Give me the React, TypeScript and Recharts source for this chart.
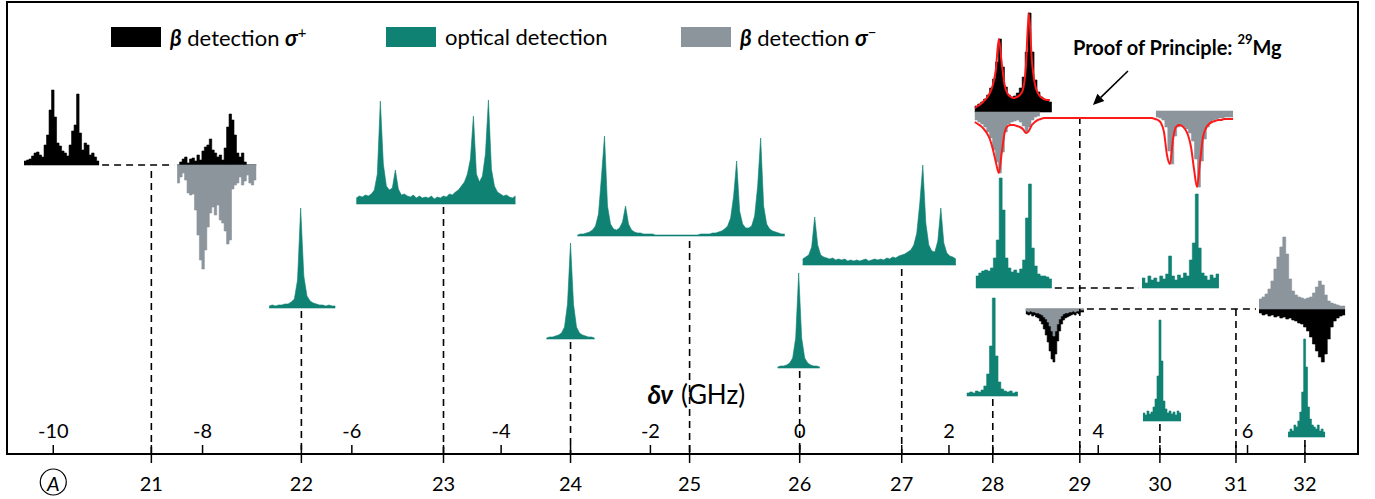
import React from "react";
import {
  ComposedChart,
  Area,
  Line,
  XAxis,
  YAxis,
  ReferenceLine,
  ReferenceArea,
  ReferenceDot,
  Legend,
} from "recharts";

const TEAL = "#0f8274";
const BLACK = "#000000";
const GREY = "#8c949c";
const RED = "#ff1a1a";

// mass numbers and where they sit on the δν (GHz) scale
const massNumbers = [21, 22, 23, 24, 25, 26, 27, 28, 29, 30, 31, 32];
const isotopeShift = [-8.686, -6.676, -4.772, -3.07, -1.475, 0, 1.367, 2.587, 3.753, 4.826, 5.845, 6.769];
const dnuTicks = [-10, -8, -6, -4, -2, 0, 2, 4, 6];

// spectra, intensities in arbitrary units
const mg21PlusA = [4, 5, 6, 9, 12, 13, 10, 8, 20, 30, 55, 75, 48, 22, 19, 14, 12, 9, 20, 34, 40, 71, 32, 15, 22, 20, 10, 12, 8, 4];
const mg21PlusB = [0, 3, 6, 8, 2, 6, 7, 4, 10, 5, 14, 18, 20, 26, 15, 12, 8, 10, 5, 17, 38, 51, 45, 30, 12, 8, 12, 3, 0, 0, 0, 0];
const mg21MinusB = [18, 12, 8, 15, 28, 30, 29, 45, 70, 95, 104, 85, 62, 48, 42, 50, 40, 55, 58, 66, 79, 75, 24, 20, 18, 12, 20, 16, 10, 18, 20, 15];
const mg22Optical = [2, 3, 2, 3, 3, 4, 4, 6, 9, 28, 100, 32, 12, 7, 5, 4, 3, 3, 2, 3, 2, 2];
const mg23Optical = [6, 8, 7, 9, 8, 10, 14, 30, 103, 40, 18, 14, 16, 34, 15, 9, 10, 8, 7, 9, 6, 8, 6, 7, 6, 8, 5, 7, 6, 8, 7, 10, 9, 12, 14, 18, 22, 30, 45, 88, 30, 22, 28, 50, 104, 35, 18, 12, 10, 8, 9, 7, 6, 8];
const mg24Optical = [1, 2, 2, 3, 4, 6, 12, 35, 96, 35, 12, 6, 4, 3, 2, 2, 1];
const mg25Optical = [
  1, 2, 2, 3, 4, 6, 10, 22, 60, 100, 30, 12, 7, 6, 8, 14, 30, 12, 6, 4, 3, 3, 2, 2, 2, 2, 1, 1, 1, 1,
  1, 1, 1, 1, 1, 1, 1, 1, 1, 1, 1, 2, 2, 2, 2, 3, 3, 4, 5, 7, 10, 18, 40, 75, 25, 12, 8, 8, 10, 20,
  50, 98, 30, 12, 7, 5, 4, 3, 2, 2,
];
const mg26Optical = [1, 2, 2, 3, 5, 10, 30, 95, 30, 10, 5, 3, 2, 2, 1];
const mg27Optical = [6, 8, 10, 18, 48, 20, 10, 8, 7, 6, 7, 5, 6, 5, 6, 4, 5, 4, 5, 4, 5, 6, 4, 5, 6, 5, 6, 5, 7, 6, 8, 7, 9, 10, 11, 13, 15, 20, 32, 62, 100, 42, 20, 14, 13, 24, 57, 22, 12, 9, 8, 6];
const mg28Optical = [3, 4, 3, 5, 4, 6, 10, 22, 50, 98, 40, 14, 7, 5, 4, 5, 3, 4];
const mg29OpticalA = [12, 15, 17, 18, 17, 20, 30, 48, 110, 78, 30, 20, 16, 18, 15, 19, 28, 70, 104, 40, 22, 14, 12, 12, 11, 9];
const mg29OpticalB = [10, 5, 12, 8, 10, 6, 12, 9, 14, 32, 12, 8, 13, 10, 15, 12, 28, 45, 94, 40, 15, 12, 8, 13, 10, 14];
const mg30Optical = [8, 6, 10, 7, 9, 14, 22, 45, 101, 60, 20, 12, 8, 10, 7, 9, 6, 10, 8];
const mg32Optical = [5, 8, 6, 12, 10, 16, 25, 45, 98, 70, 30, 18, 12, 10, 8, 12, 6, 8, 5];
const mg31PlusA = [5, 6, 5, 7, 6, 8, 9, 12, 15, 20, 26, 33, 42, 50, 53, 45, 32, 22, 15, 11, 9, 8, 7, 6, 5, 6, 4, 5, 3, 3];
const mg31MinusA = [2, 3, 2, 3, 3, 4, 4, 5, 6, 8, 10, 13, 17, 22, 27, 22, 15, 10, 7, 5, 4, 4, 3, 3, 2, 3, 2, 2, 1, 1];
const mg31MinusB = [10, 12, 15, 20, 28, 40, 52, 62, 72, 55, 30, 18, 14, 12, 11, 10, 11, 12, 16, 22, 28, 24, 14, 8, 6, 5, 4, 3, 3];
const mg31PlusB = [4, 6, 5, 7, 6, 8, 7, 9, 8, 10, 9, 11, 12, 14, 15, 18, 22, 28, 35, 42, 48, 53, 45, 30, 18, 12, 9, 7, 6];
const mg29Plus = [6, 8, 10, 13, 17, 24, 33, 50, 73, 45, 25, 17, 15, 16, 19, 24, 35, 60, 99, 60, 32, 20, 15, 12, 11, 10];
const mg29MinusA = [8, 10, 12, 15, 20, 26, 38, 50, 61, 40, 20, 12, 10, 9, 8, 10, 14, 21, 15, 8, 5, 4];
const mg29MinusB = [6, 7, 9, 16, 40, 53, 25, 16, 15, 16, 18, 22, 30, 48, 76, 50, 28, 16, 11, 9, 8, 7, 7, 6, 6, 6];
const mg29FitPlus = [4, 6, 8, 11, 14, 19, 27, 42, 73, 48, 26, 18, 15, 14, 15, 17, 22, 45, 99, 52, 28, 19, 15, 13, 12, 12];
const mg29FitMinus = [
  5, 7, 9, 12, 16, 22, 32, 45, 56, 35, 15, 9, 8, 8, 9, 10, 12, 16, 14, 8, 5, 3, 2, 1,
  1, 1, 1, 1, 1, 1, 1, 1, 1, 1, 1, 1, 1, 1, 1, 1, 1, 1, 1, 1, 1, 1, 1, 1, 1, 1, 1, 1, 1, 1, 1, 1, 1, 1, 1,
  1, 2, 3, 6, 15, 38, 47, 22, 10, 8, 9, 12, 18, 30, 52, 70, 45, 20, 11, 7, 5, 4, 3, 3, 2, 2, 2, 2,
];

type Spec = {
  name: string;
  values: number[];
  from: number;
  to: number;
  base: number;
  dir: 1 | -1;
  color: string;
  step: boolean;
  mass?: number;
  gap?: number;
};

// where each inset sits: from/to on the δν axis, base on the (hidden) vertical scale
const spectra: Spec[] = [
  { name: "mg21-plus-a", values: mg21PlusA, from: -10.392, to: -9.386, base: 289, dir: 1, color: BLACK, step: true },
  { name: "mg21-plus-b", values: mg21PlusB, from: -8.34, to: -7.281, base: 289, dir: 1, color: BLACK, step: true, mass: 21, gap: 6 },
  { name: "mg21-minus-b", values: mg21MinusB, from: -8.34, to: -7.281, base: 289, dir: -1, color: GREY, step: true },
  { name: "mg22", values: mg22Optical, from: -7.107, to: -6.222, base: 146, dir: 1, color: TEAL, step: false, mass: 22, gap: 3 },
  { name: "mg23", values: mg23Optical, from: -5.94, to: -3.808, base: 250, dir: 1, color: TEAL, step: false, mass: 23, gap: 3 },
  { name: "mg24", values: mg24Optical, from: -3.392, to: -2.749, base: 115, dir: 1, color: TEAL, step: false, mass: 24, gap: 3 },
  { name: "mg25", values: mg25Optical, from: -2.977, to: -0.201, base: 218, dir: 1, color: TEAL, step: false, mass: 25, gap: 5 },
  { name: "mg26", values: mg26Optical, from: -0.295, to: 0.268, base: 86, dir: 1, color: TEAL, step: false, mass: 26, gap: 3 },
  { name: "mg27", values: mg27Optical, from: 0.04, to: 2.092, base: 189, dir: 1, color: TEAL, step: false, mass: 27, gap: 4 },
  { name: "mg28", values: mg28Optical, from: 2.239, to: 2.923, base: 58, dir: 1, color: TEAL, step: true, mass: 28, gap: 3 },
  { name: "mg29-opt-a", values: mg29OpticalA, from: 2.36, to: 3.378, base: 166, dir: 1, color: TEAL, step: true },
  { name: "mg29-opt-b", values: mg29OpticalB, from: 4.586, to: 5.617, base: 166, dir: 1, color: TEAL, step: true },
  { name: "mg30", values: mg30Optical, from: 4.599, to: 5.109, base: 33, dir: 1, color: TEAL, step: true, mass: 30, gap: 3 },
  { name: "mg32", values: mg32Optical, from: 6.543, to: 7.039, base: 17, dir: 1, color: TEAL, step: true, mass: 32, gap: 3 },
  { name: "mg31-plus-a", values: mg31PlusA, from: 3.03, to: 3.808, base: 145, dir: -1, color: BLACK, step: true },
  { name: "mg31-minus-a", values: mg31MinusA, from: 3.03, to: 3.808, base: 145, dir: -1, color: GREY, step: true },
  { name: "mg31-plus-b", values: mg31PlusB, from: 6.154, to: 7.307, base: 145, dir: -1, color: BLACK, step: true, mass: 31, gap: 0 },
  { name: "mg31-minus-b", values: mg31MinusB, from: 6.154, to: 7.307, base: 145, dir: 1, color: GREY, step: true },
  { name: "mg29-plus", values: mg29Plus, from: 2.346, to: 3.378, base: 342, dir: 1, color: BLACK, step: true },
  { name: "mg29-minus-a", values: mg29MinusA, from: 2.346, to: 3.218, base: 342, dir: -1, color: GREY, step: true },
  { name: "mg29-minus-b", values: mg29MinusB, from: 4.773, to: 5.806, base: 343, dir: -1, color: GREY, step: true },
];

const fits = [
  { name: "fit-plus", values: mg29FitPlus, from: 2.346, to: 3.352, base: 342, dir: 1 },
  { name: "fit-minus", values: mg29FitMinus, from: 2.346, to: 5.806, base: 337, dir: -1, mass: 29 },
];

const links = [
  ["mg21-plus-a", "mg21-plus-b"],
  ["mg29-opt-a", "mg29-opt-b"],
  ["mg31-plus-a", "mg31-plus-b"],
];

const legendItems = [
  { greek: "β", sign: "+", text: " detection ", color: BLACK },
  { greek: "", sign: "", text: "optical detection", color: TEAL },
  { greek: "β", sign: "−", text: " detection ", color: GREY },
];

const axisTicks = Array.from(new Set([...dnuTicks, ...isotopeShift])).sort((a, b) => a - b);

function toPoints(s: Spec) {
  const n = s.values.length;
  const span = s.to - s.from;
  const pts = s.values.map((h, i) => ({
    x: s.from + (span * i) / (s.step ? n : n - 1),
    v: [s.base, s.base + s.dir * h],
  }));
  if (s.step) pts.push({ x: s.to, v: pts[n - 1].v });
  return pts;
}

function fitPoints(f: (typeof fits)[number]) {
  const n = f.values.length;
  return f.values.map((h, i) => ({ x: f.from + ((f.to - f.from) * i) / (n - 1), y: f.base + f.dir * h }));
}

const byName = (n: string) => spectra.find((s) => s.name === n)!;

// one axis carries both scales: δν ticks point up inside, mass numbers hang below
const AxisTick = ({ x, y, payload }: any) => {
  const v = payload.value;
  const m = isotopeShift.indexOf(v);
  const isDnu = dnuTicks.includes(v);
  return (
    <g>
      {isDnu && (
        <>
          <line x1={x} x2={x} y1={y} y2={y - 9} stroke="#000" strokeWidth={1.5} />
          <text x={x} y={y - 24} textAnchor="middle" dominantBaseline="central" fontSize={20} fill="#000">
            {v}
          </text>
        </>
      )}
      {m >= 0 && (
        <>
          <line x1={x} x2={x} y1={y - 9} y2={y + 9} stroke="#000" strokeWidth={1.5} />
          <text x={x} y={y + 29} textAnchor="middle" dominantBaseline="central" fontSize={20} fill="#000">
            {massNumbers[m]}
          </text>
        </>
      )}
      {v === dnuTicks[0] && (
        <>
          <circle cx={x} cy={y + 28} r={13} fill="none" stroke="#000" strokeWidth={1.2} />
          <text x={x} y={y + 29} textAnchor="middle" dominantBaseline="central" fontSize={20} fontStyle="italic" fill="#000">
            A
          </text>
        </>
      )}
    </g>
  );
};

const LegendBox = () => (
  <div style={{ position: "relative", height: 24 }}>
    {legendItems.map((it, i) => (
      <div
        key={i}
        style={{ position: "absolute", left: [0, 275, 570][i], top: 0, display: "flex", alignItems: "center", whiteSpace: "nowrap" }}
      >
        <span style={{ display: "inline-block", width: 50, height: 20, background: it.color, marginRight: 9 }} />
        <span style={{ fontSize: 22, color: "#000" }}>
          {it.greek && <b style={{ fontStyle: "italic" }}>{it.greek}</b>}
          {it.text}
          {it.sign && <b style={{ fontStyle: "italic" }}>σ</b>}
          {it.sign && <sup style={{ fontSize: 15 }}>{it.sign}</sup>}
        </span>
      </div>
    ))}
  </div>
);

const dashed = { stroke: "#000", strokeWidth: 1.6, strokeDasharray: "7 5" };

export default function App() {
  return (
    <div style={{ position: "absolute", left: 0, top: 0, fontFamily: "Lato, 'Open Sans', sans-serif" }}>
      <ComposedChart width={1375} height={499} margin={{ top: 2, right: 17, bottom: 5, left: 7 }}>
        <XAxis
          xAxisId="dv"
          type="number"
          dataKey="x"
          domain={[-10.62, 7.48]}
          allowDataOverflow
          ticks={axisTicks}
          interval={0}
          height={40}
          tickSize={0}
          tickMargin={0}
          tickLine={false}
          axisLine={{ stroke: "#000", strokeWidth: 2 }}
          tick={(p: any) => <AxisTick {...p} />}
        />
        <YAxis yAxisId="y" type="number" domain={[0, 452]} allowDataOverflow hide />
        <ReferenceArea
          xAxisId="dv"
          yAxisId="y"
          x1={-10.62}
          x2={7.48}
          y1={0}
          y2={452}
          fill="none"
          stroke="#000"
          strokeWidth={2}
          ifOverflow="visible"
        />
        <Legend
          layout="horizontal"
          verticalAlign="middle"
          align="center"
          wrapperStyle={{ position: "absolute", left: 111, top: 23, width: 820 }}
          content={() => <LegendBox />}
        />

        {spectra
          .filter((s) => s.mass !== undefined)
          .map((s) => (
            <ReferenceLine
              key={"drop-" + s.name}
              xAxisId="dv"
              yAxisId="y"
              segment={[
                { x: isotopeShift[massNumbers.indexOf(s.mass!)], y: s.base - (s.dir < 0 ? 0 : s.gap ?? 0) },
                { x: isotopeShift[massNumbers.indexOf(s.mass!)], y: 0 },
              ]}
              {...dashed}
            />
          ))}
        {fits
          .filter((f) => f.mass !== undefined)
          .map((f) => (
            <ReferenceLine
              key={"drop-" + f.name}
              xAxisId="dv"
              yAxisId="y"
              segment={[
                { x: isotopeShift[massNumbers.indexOf(f.mass!)], y: f.base },
                { x: isotopeShift[massNumbers.indexOf(f.mass!)], y: 0 },
              ]}
              {...dashed}
            />
          ))}
        {links.map(([a, b]) => (
          <ReferenceLine
            key={"link-" + a}
            xAxisId="dv"
            yAxisId="y"
            segment={[
              { x: byName(a).to + 0.04, y: byName(a).base },
              { x: byName(b).from - 0.04, y: byName(a).base },
            ]}
            {...dashed}
          />
        ))}

        {spectra.map((s) => (
          <Area
            key={s.name}
            name={s.name}
            data={toPoints(s)}
            dataKey="v"
            xAxisId="dv"
            yAxisId="y"
            type={s.step ? "stepAfter" : "linear"}
            fill={s.color}
            fillOpacity={1}
            stroke={s.color}
            strokeWidth={0.6}
            dot={false}
            activeDot={false}
            isAnimationActive={false}
          />
        ))}
        {fits.map((f) => (
          <Line
            key={f.name}
            name={f.name}
            data={fitPoints(f)}
            dataKey="y"
            xAxisId="dv"
            yAxisId="y"
            type="monotone"
            stroke={RED}
            strokeWidth={2}
            dot={false}
            activeDot={false}
            isAnimationActive={false}
          />
        ))}

        <ReferenceLine
          xAxisId="dv"
          yAxisId="y"
          segment={[
            { x: 4.398, y: 383 },
            { x: 3.929, y: 349 },
          ]}
          stroke="#000"
          strokeWidth={1.6}
          shape={(p: any) => {
            const ang = Math.atan2(p.y2 - p.y1, p.x2 - p.x1);
            const len = 11;
            const w = 5;
            const bx = p.x2 - len * Math.cos(ang);
            const by = p.y2 - len * Math.sin(ang);
            return (
              <g>
                <line x1={p.x1} y1={p.y1} x2={bx} y2={by} stroke="#000" strokeWidth={1.6} />
                <polygon
                  points={`${p.x2},${p.y2} ${bx + w * Math.sin(ang)},${by - w * Math.cos(ang)} ${bx - w * Math.sin(ang)},${by + w * Math.cos(ang)}`}
                  fill="#000"
                />
              </g>
            );
          }}
        />
        <ReferenceDot
          xAxisId="dv"
          yAxisId="y"
          x={3.661}
          y={407}
          r={0}
          fill="none"
          stroke="none"
          label={(p: any) => (
            <text x={p.viewBox.x} y={p.viewBox.y} dominantBaseline="central" fontSize={20} fontWeight="bold" fill="#000">
              Proof of Principle:{" "}
              <tspan fontSize={13} dy={-8}>
                29
              </tspan>
              <tspan dy={8}>Mg</tspan>
            </text>
          )}
        />
        <ReferenceDot
          xAxisId="dv"
          yAxisId="y"
          x={-2.04}
          y={60}
          r={0}
          fill="none"
          stroke="none"
          label={(p: any) => (
            <text x={p.viewBox.x} y={p.viewBox.y} dominantBaseline="central" fontSize={26} fill="#000">
              <tspan fontWeight="bold" fontStyle="italic">
                δν
              </tspan>
              <tspan dx={8}>(GHz)</tspan>
            </text>
          )}
        />
      </ComposedChart>
    </div>
  );
}
